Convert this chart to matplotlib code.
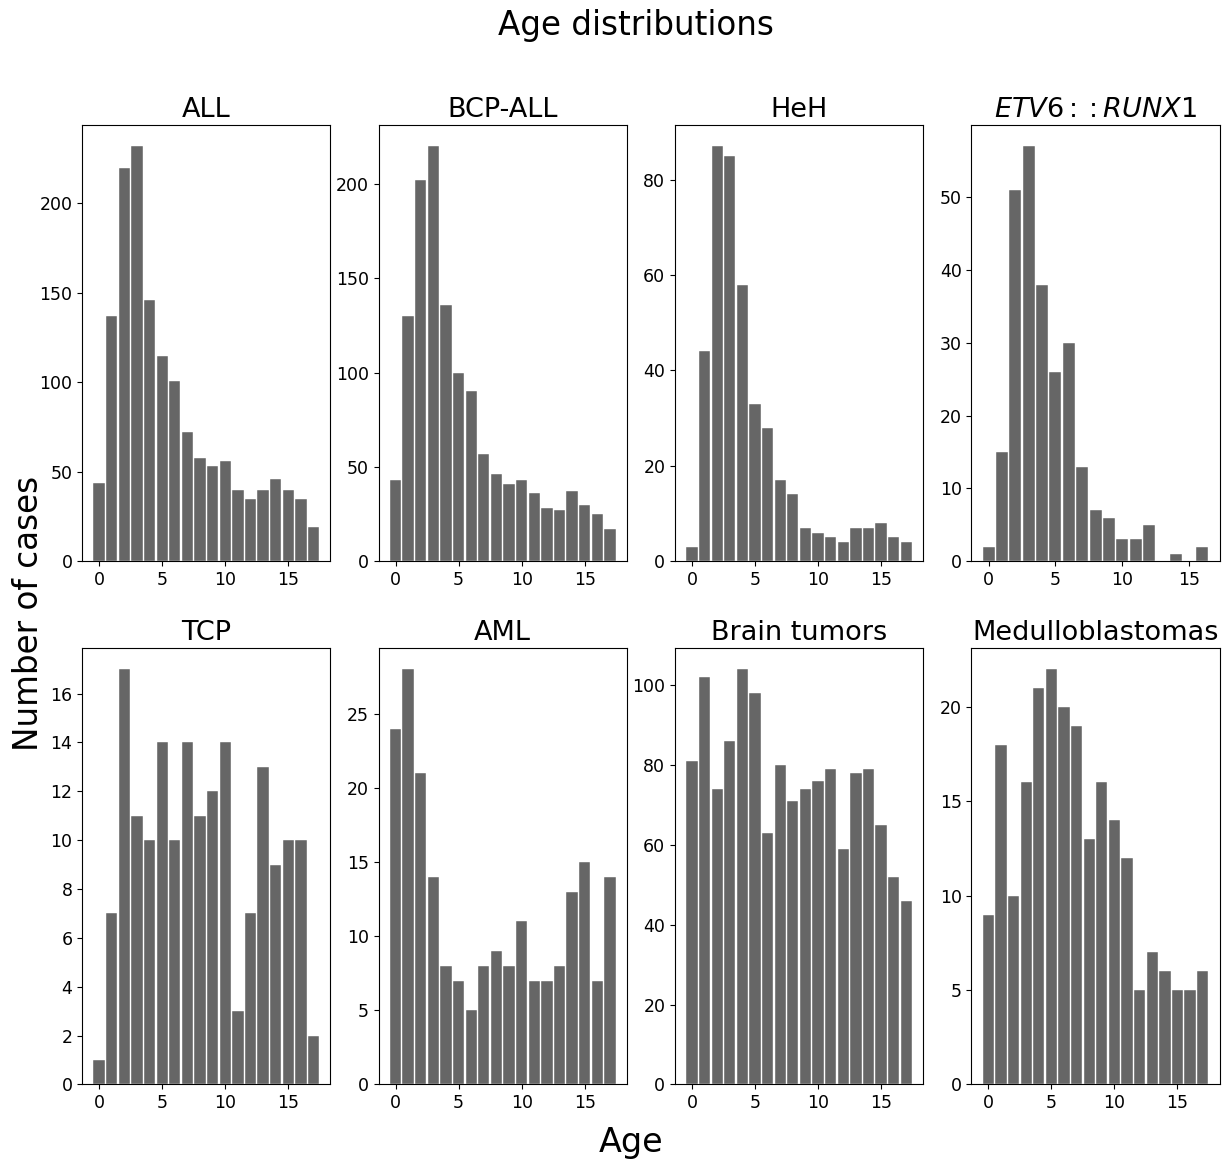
import numpy as np
import matplotlib
matplotlib.use("Agg")
import matplotlib.pyplot as plt

# counts per age (years)
titles = ["ALL", "BCP-ALL", "HeH", r"$ETV6::RUNX1$",
          "TCP", "AML", "Brain tumors", "Medulloblastomas"]

all_counts = [44, 137, 220, 232, 146, 115, 101, 72, 58, 53, 56, 40, 35, 40, 46, 40, 35, 19]
bcp_counts = [43, 130, 202, 220, 136, 100, 90, 57, 46, 41, 43, 36, 28, 27, 37, 30, 25, 17]
heh_counts = [3, 44, 87, 85, 58, 33, 28, 17, 14, 7, 6, 5, 4, 7, 7, 8, 5, 4]
etv6_counts = [2, 15, 51, 57, 38, 26, 30, 13, 7, 6, 3, 3, 5, 0, 1, 0, 2]
tcp_counts = [1, 7, 17, 11, 10, 14, 10, 14, 11, 12, 14, 3, 7, 13, 9, 10, 10, 2]
aml_counts = [24, 28, 21, 14, 8, 7, 5, 8, 9, 8, 11, 7, 7, 8, 13, 15, 7, 14]
brain_counts = [81, 102, 74, 86, 104, 98, 63, 80, 71, 74, 76, 79, 59, 78, 79, 65, 52, 46]
medullo_counts = [9, 18, 10, 16, 21, 22, 20, 19, 13, 16, 14, 12, 5, 7, 6, 5, 5, 6]

series = [all_counts, bcp_counts, heh_counts, etv6_counts,
          tcp_counts, aml_counts, brain_counts, medullo_counts]

fig, axes = plt.subplots(2, 4, figsize=(12.27, 11.61), dpi=100)
fig.subplots_adjust(left=0.067, right=0.994, top=0.892, bottom=0.066,
                    wspace=0.194, hspace=0.2)

for ax, title, counts in zip(axes.flat, titles, series):
    ages = np.arange(len(counts))
    ax.bar(ages, counts, width=0.9, color="#666666", edgecolor="white", linewidth=0.3)
    ax.set_title(title, fontsize=19.5)
    ax.set_xticks([0, 5, 10, 15])
    ax.tick_params(labelsize=12.5)

fig.text(0.518, 0.978, "Age distributions", ha="center", va="center", fontsize=23.5)
fig.text(0.023, 0.472, "Number of cases", ha="center", va="center",
         rotation=90, fontsize=23.5)
fig.text(0.514, 0.016, "Age", ha="center", va="center", fontsize=24)

plt.savefig("out.png", dpi=100)
